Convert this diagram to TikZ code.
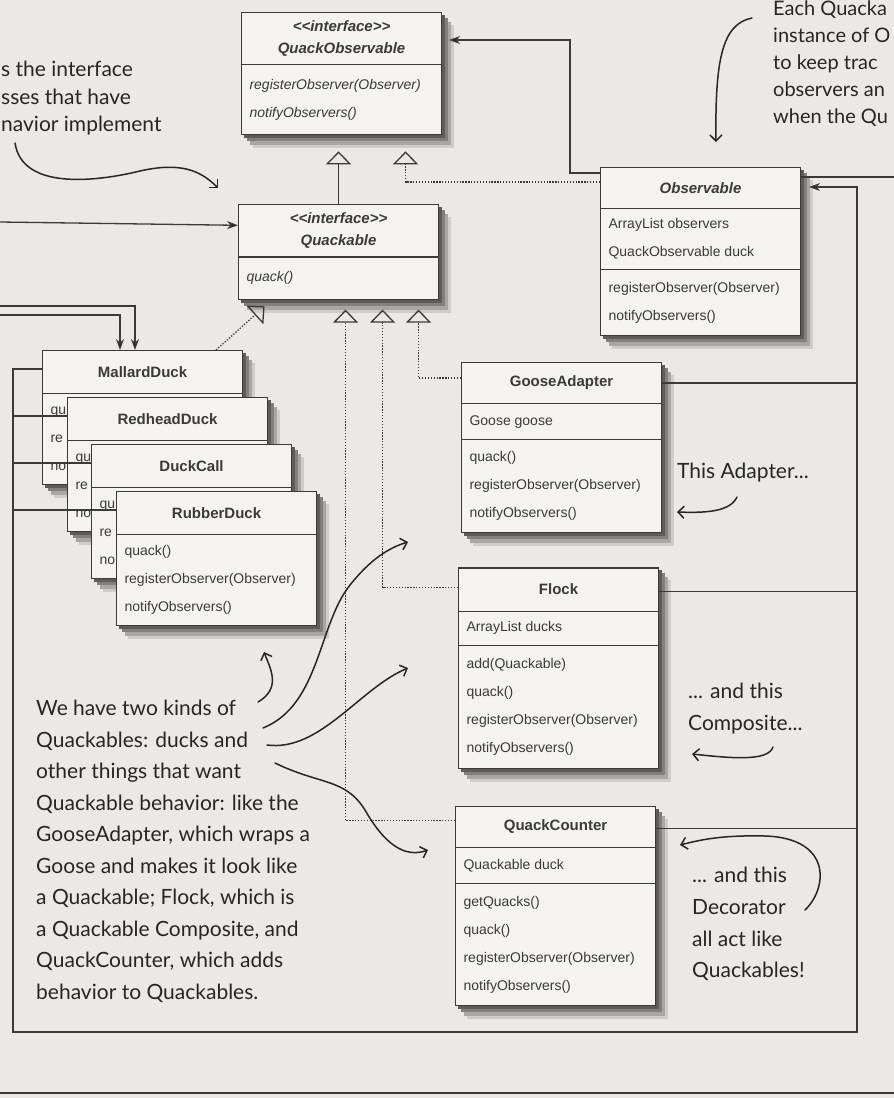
\documentclass[tikz,border=0pt]{standalone}
\usepackage{fontspec}
\setmainfont{Liberation Sans}
\newfontfamily\handfont{Lato}
\usetikzlibrary{arrows.meta,positioning,shapes.multipart,backgrounds}

\definecolor{paper}{HTML}{EBE9E5}
\definecolor{boxfill}{HTML}{F4F3EF}
\definecolor{ink}{HTML}{3A3A3A}
\definecolor{pen}{HTML}{262626}
\definecolor{shadeA}{HTML}{5E5C5A}
\definecolor{shadeB}{HTML}{82807D}
\definecolor{shadeC}{HTML}{A9A7A3}
\definecolor{shadeD}{HTML}{CFCDC9}

% class compartments: fixed height, fixed width
\newcommand{\umlhead}[2]{\parbox[c][#1][c]{184pt}{\centering\fontsize{15}{22}\selectfont\bfseries #2}}
\newcommand{\umlrows}[2]{\parbox[c][#1][c]{184pt}{\raggedright\fontsize{14}{28}\selectfont #2}}
\newcommand{\duckops}{quack()\\registerObserver(Observer)\\notifyObservers()}

\begin{document}
\begin{tikzpicture}[x=1pt,y=-1pt,
  uml/.style={rectangle split,rectangle split parts=#1,draw=ink,line width=1.1pt,
    fill=boxfill,inner xsep=8pt,inner ysep=0pt,text=ink,anchor=north west},
  uml/.default=3,
  link/.style={draw=ink,line width=1.3pt},
  assoc/.style={link,-{Stealth[length=11pt,width=8pt]}},
  impl/.style={link,dash pattern=on 1.3pt off 1.6pt,
    -{Triangle[open,length=13pt,width=25pt,line width=1.3pt]}},
  extends/.style={link,-{Triangle[open,length=13pt,width=25pt,line width=1.3pt]}},
  note/.style={font=\handfont\fontsize{21}{31.5}\selectfont,text=pen,align=left,
    inner sep=0pt,anchor=north west},
  pointer/.style={draw=pen,line width=1.5pt,line cap=round,
    -{Straight Barb[length=6pt,width=12pt]}}
]
  \useasboundingbox (0,0) rectangle (894,1098);

  % interfaces
  \node[uml=2] (qo) at (241,12)
    {\umlhead{51pt}{\itshape <{}<interface>{}>\\QuackObservable}
     \nodepart{two}\umlrows{69pt}{\itshape registerObserver(Observer)\\notifyObservers()}};
  \node[uml=2,below=69pt of qo.south west,anchor=north west,xshift=-3pt] (qk)
    {\umlhead{51pt}{\itshape <{}<interface>{}>\\Quackable}
     \nodepart{two}\umlrows{41pt}{\itshape quack()}};

  \node[uml] (obs) at (600,167)
    {\umlhead{40pt}{\itshape Observable}
     \nodepart{two}\umlrows{60pt}{ArrayList observers\\QuackObservable duck}
     \nodepart{three}\umlrows{65pt}{registerObserver(Observer)\\notifyObservers()}};

  % the ducks, stacked (only the left edge of the lower ones shows)
  \node[uml=2] (mallard) at (42,350)
    {\umlhead{42pt}{MallardDuck}\nodepart{two}\umlrows{90pt}{qu\\re\\no}};
  \node[uml=2] (redhead) at ([shift={(25pt,-47pt)}]mallard.north west)
    {\umlhead{42pt}{RedheadDuck}\nodepart{two}\umlrows{90pt}{qu\\re\\no}};
  \node[uml=2] (duckcall) at ([shift={(24pt,-47pt)}]redhead.north west)
    {\umlhead{42pt}{DuckCall}\nodepart{two}\umlrows{90pt}{qu\\re\\no}};
  \node[uml=2] (rubber) at ([shift={(25pt,-47pt)}]duckcall.north west)
    {\umlhead{42pt}{RubberDuck}\nodepart{two}\umlrows{90pt}{\duckops}};

  % adapter, composite, decorator
  \node[uml] (goose) at (461,362)
    {\umlhead{40pt}{GooseAdapter}
     \nodepart{two}\umlrows{35pt}{Goose goose}
     \nodepart{three}\umlrows{92pt}{\duckops}};
  \node[uml,below=34pt of goose.south west,anchor=north west,xshift=-3pt] (flock)
    {\umlhead{42pt}{Flock}
     \nodepart{two}\umlrows{33pt}{ArrayList ducks}
     \nodepart{three}\umlrows{122pt}{add(Quackable)\\\duckops}};
  \node[uml,below=37pt of flock.south west,anchor=north west,xshift=-3pt] (counter)
    {\umlhead{40pt}{QuackCounter}
     \nodepart{two}\umlrows{35pt}{Quackable duck}
     \nodepart{three}\umlrows{121pt}{getQuacks()\\\duckops}};

  % paper and drop shadows, behind everything
  \begin{scope}[on background layer]
    \fill[paper] (0,0) rectangle (894,1098);
    \foreach \c in {qo,qk,obs,mallard,redhead,duckcall,rubber,goose,flock,counter} {
      \fill[shadeD] ([shift={(12pt,-13pt)}]\c.north west) rectangle ([shift={(12pt,-13pt)}]\c.south east);
      \fill[shadeC] ([shift={(9pt,-10pt)}]\c.north west) rectangle ([shift={(9pt,-10pt)}]\c.south east);
      \fill[shadeB] ([shift={(6pt,-6pt)}]\c.north west) rectangle ([shift={(6pt,-6pt)}]\c.south east);
      \fill[shadeA] ([shift={(3pt,-3pt)}]\c.north west) rectangle ([shift={(3pt,-3pt)}]\c.south east);
    }
  \end{scope}

  % free ends and rail corners
  \coordinate (railL) at (13,1032);
  \coordinate (railR) at (857,1032);
  \coordinate (offQ) at (0,222);
  \coordinate (offM1) at (0,306);
  \coordinate (offM2) at (0,315);
  \coordinate (offO) at (894,177);

  % generalisation / realisation
  \draw[extends,shorten >=16pt] (qk.north) -- (qk.north |- qo.south);
  \draw[impl,shorten >=16pt] ([yshift=-15pt]obs.north west) -| ([xshift=64pt]qo.south);
  \draw[impl,shorten >=10pt] ([xshift=-27pt]mallard.north east) -- ([xshift=34pt]qk.south west);
  \draw[impl,shorten >=10pt] ([yshift=-16pt]goose.north west) -| ([xshift=80pt]qk.south);
  \draw[impl,shorten >=10pt] ([yshift=-20pt]flock.north west) -| ([xshift=44pt]qk.south);
  \draw[impl,shorten >=10pt] ([yshift=-15pt]counter.north west) -| ([xshift=7pt]qk.south);

  % associations
  \draw[assoc,shorten >=7pt] ([yshift=-6pt]obs.north west) -- ++(-30pt,0) |- ([yshift=-28pt]qo.north east);
  \draw[assoc,shorten >=8pt] ([yshift=-19pt]mallard.north west) -| (railL) -- (railR)
    |- ([yshift=-20pt]obs.north east);
  \draw[link] ([yshift=-19pt]redhead.north west) -- ([yshift=-19pt]redhead.north west -| railL);
  \draw[link] ([yshift=-19pt]duckcall.north west) -- ([yshift=-19pt]duckcall.north west -| railL);
  \draw[link] ([yshift=-19pt]rubber.north west) -- ([yshift=-19pt]rubber.north west -| railL);
  \draw[link] ([yshift=-21pt]goose.north east) -- ([yshift=-21pt]goose.north east -| railR);
  \draw[link] ([yshift=-24pt]flock.north east) -- ([yshift=-24pt]flock.north east -| railR);
  \draw[link] ([yshift=-23pt]counter.north east) -- ([yshift=-23pt]counter.north east -| railR);
  \draw[link] ([yshift=-10pt]obs.north east) -- (offO);
  \draw[assoc] (offQ) -- ([yshift=-21pt]qk.north west);
  \draw[assoc] (offM1) -| ([xshift=93pt]mallard.north west);
  \draw[assoc] (offM2) -| ([xshift=78pt]mallard.north west);

  % page edge
  \draw[ink,line width=1.4pt] (0,1093) -- (894,1093);

  % handwritten notes
  \node[note,font=\handfont\fontsize{21}{27.5}\selectfont] (ifnote) at (1,61)
    {s the interface\\sses that have\\navior implement};
  \node[note,font=\handfont\fontsize{20}{27}\selectfont] (obsnote) at (773,1)
    {Each Quacka\\instance of O\\to keep trac\\observers an\\when the Qu};
  \node[note] (adnote) at (677,463) {This Adapter...};
  \node[note,font=\handfont\fontsize{21}{32}\selectfont] (cpnote) at (688,683)
    {... and this\\Composite...};
  \node[note,font=\handfont\fontsize{21}{31.7}\selectfont] (dcnote) at (692,867)
    {... and this\\Decorator\\all act like\\Quackables!};
  \node[note] (kinds) at (36,700)
    {We have two kinds of\\Quackables: ducks and\\other things that want\\
     Quackable behavior: like the\\GooseAdapter, which wraps a\\
     Goose and makes it look like\\a Quackable; Flock, which is\\
     a Quackable Composite, and\\QuackCounter, which adds\\behavior to Quackables.};

  % pointers
  \coordinate (p1s) at (15,143);   \coordinate (p1t) at (218,188);
  \coordinate (p2s) at (752,18);   \coordinate (p2t) at (716,142);
  \coordinate (p3s) at (737,497);  \coordinate (p3t) at (677,512);
  \coordinate (p4s) at (773,747);  \coordinate (p4t) at (692,754);
  \coordinate (p5s) at (805,910);  \coordinate (p5t) at (680,845);
  \coordinate (p6s) at (258,702);  \coordinate (p6t) at (264,652);
  \coordinate (p7s) at (263,728);  \coordinate (p7t) at (408,542);
  \coordinate (p8s) at (267,745);  \coordinate (p8t) at (408,668);
  \coordinate (p9s) at (275,763);  \coordinate (p9t) at (428,850);
  \draw[pointer] (p1s) .. controls (22,190) and (95,182) .. (140,171)
    .. controls (180,162) and (200,170) .. (p1t);
  \draw[pointer] (p2s) .. controls (722,24) and (715,60) .. (p2t);
  \draw[pointer] (p3s) .. controls (730,512) and (705,513) .. (p3t);
  \draw[pointer] (p4s) .. controls (768,762) and (730,758) .. (p4t);
  \draw[pointer] (p5s) .. controls (828,888) and (832,838) .. (765,836)
    .. controls (720,835) and (700,840) .. (p5t);
  \draw[pointer] (p6s) .. controls (282,688) and (270,668) .. (p6t);
  \draw[pointer] (p7s) .. controls (320,705) and (318,625) .. (350,585)
    .. controls (370,560) and (388,548) .. (p7t);
  \draw[pointer] (p8s) .. controls (320,752) and (360,688) .. (p8t);
  \draw[pointer] (p9s) .. controls (320,785) and (345,778) .. (365,810)
    .. controls (385,845) and (405,858) .. (p9t);
\end{tikzpicture}
\end{document}
